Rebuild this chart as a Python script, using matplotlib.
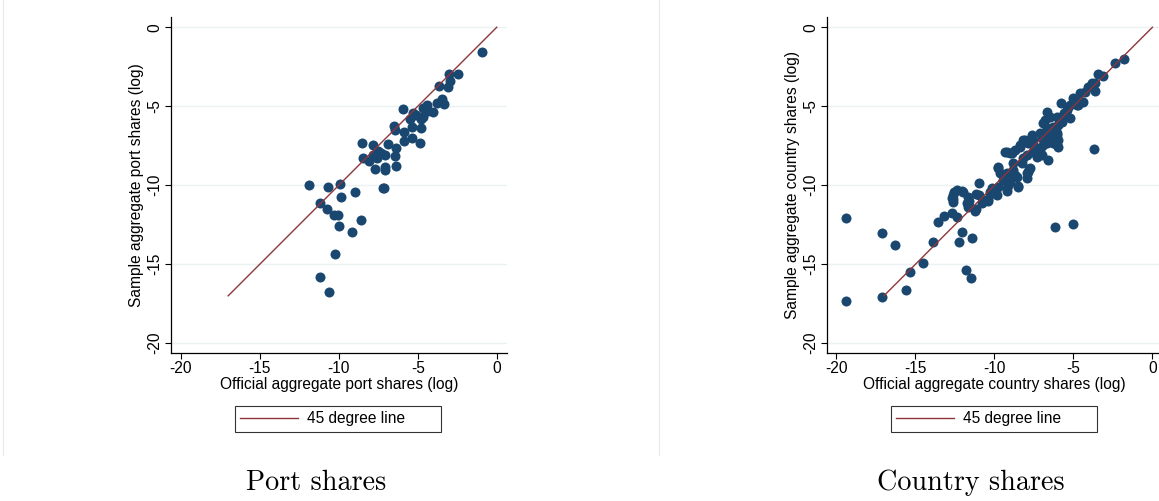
import matplotlib
matplotlib.use("Agg")
import matplotlib.pyplot as plt
from matplotlib.lines import Line2D

# ---------------- data ----------------
port_x = [-0.95, -2.47, -3.04, -2.97, -3.63, -3.10, -3.46, -3.78, -3.35, -4.43,
          -4.64, -4.33, -4.05, -5.91, -5.28, -5.49, -4.64, -4.79, -6.48, -5.38,
          -4.81, -6.44, -5.87, -5.34, -5.85, -4.85, -8.54, -7.81, -6.90, -6.39,
          -7.49, -7.81, -8.44, -7.59, -7.07, -6.44, -8.06, -7.70, -7.07, -7.07,
          -6.39, -11.90, -10.68, -9.90, -8.95, -9.87, -7.22, -7.13, -11.16, -10.72,
          -10.30, -10.06, -8.59, -9.96, -9.18, -10.25, -11.18, -10.59, -7.35, -5.12]
port_y = [-1.54, -2.96, -2.96, -3.40, -3.72, -3.78, -4.56, -4.81, -4.87, -4.92,
          -5.09, -5.30, -5.34, -5.19, -5.44, -5.82, -5.66, -5.80, -6.25, -6.29,
          -6.35, -6.50, -6.65, -6.99, -7.18, -7.34, -7.34, -7.43, -7.41, -7.64,
          -7.81, -8.08, -8.27, -8.27, -8.10, -8.13, -8.46, -8.99, -8.85, -9.05,
          -8.76, -10.00, -10.09, -9.90, -10.44, -10.74, -10.15, -10.19, -11.10, -11.50,
          -11.88, -11.88, -12.20, -12.56, -12.96, -14.35, -15.80, -16.77, -7.95, -5.55]

country_x = [-19.37, -19.41, -17.09, -17.13, -16.31, -15.63, -15.36, -14.51, -13.90, -13.56,
             -13.18, -12.71, -12.40, -12.08, -12.25, -11.45, -11.83, -11.51, -6.19, -5.03,
             -3.67, -12.57, -12.67, -12.65, -12.04, -11.70, -11.76, -11.66, -11.24, -11.17,
             -10.96, -10.81, -10.39, -10.29, -9.86, -10.18, -9.76, -9.23, -8.49, -9.02,
             -7.96, -7.86, -9.65, -8.70, -10.71, -9.97, -9.44, -9.23, -9.13, -9.23,
             -8.81, -8.59, -7.79, -8.28, -9.76, -9.23, -8.91, -8.38, -8.07, -7.54,
             -7.33, -7.64, -7.12, -6.69, -6.59, -6.27, -6.91, -6.17, -9.02, -9.34,
             -9.76, -9.02, -8.49, -7.96, -7.75, -7.12, -7.01, -7.96, -8.70, -8.38,
             -7.43, -6.91, -7.33, -7.54, -7.86, -8.17, -7.01, -6.48, -5.96, -6.27,
             -5.96, -6.06, -6.69, -5.96, -6.27, -6.80, -6.48, -6.69, -5.74, -5.22,
             -5.53, -5.43, -5.79, -5.22, -4.79, -4.90, -4.37, -4.58, -4.26, -4.06,
             -3.63, -3.84, -3.63, -3.42, -3.11, -2.36, -1.77, -5.33, -5.01, -6.06,
             -6.06, -6.06, -12.60, -12.60, -12.40, -12.00, -11.60, -11.60, -11.20, -11.00,
             -10.70, -10.40, -10.00, -8.80, -8.20, -7.60, -6.80, -6.40, -5.60, -4.70]
country_y = [-12.09, -17.32, -13.04, -17.07, -13.76, -16.65, -15.51, -14.90, -13.61, -12.34,
             -11.96, -11.73, -11.99, -12.94, -13.61, -13.32, -15.38, -15.87, -12.62, -12.47,
             -7.72, -10.41, -10.82, -11.08, -10.36, -10.76, -11.14, -11.35, -11.61, -10.55,
             -9.87, -11.10, -10.97, -10.41, -10.61, -10.19, -10.09, -10.19, -10.09, -9.77,
             -9.56, -9.14, -9.24, -9.35, -10.93, -10.41, -9.66, -9.24, -9.98, -10.34,
             -9.03, -9.45, -8.99, -8.61, -8.89, -7.87, -7.97, -7.45, -7.13, -7.87,
             -8.19, -6.82, -6.71, -7.34, -8.40, -6.39, -6.08, -7.34, -7.97, -7.87,
             -8.82, -9.45, -10.04, -9.24, -8.92, -7.77, -8.08, -8.08, -7.76, -7.56,
             -7.56, -7.45, -7.87, -7.13, -7.34, -7.13, -7.02, -6.92, -7.13, -7.34,
             -7.56, -6.71, -6.39, -6.18, -6.29, -5.87, -5.66, -5.34, -5.97, -5.76,
             -5.55, -5.23, -4.77, -4.92, -4.92, -4.60, -4.71, -4.18, -4.07, -3.76,
             -4.01, -3.50, -3.54, -2.97, -3.08, -2.24, -2.03, -5.06, -4.49, -5.66,
             -6.82, -7.45, -10.90, -10.60, -10.30, -10.40, -11.00, -11.30, -11.50, -10.60,
             -11.00, -10.90, -10.50, -8.60, -8.30, -7.40, -6.70, -6.60, -5.40, -4.90]

line_ends = [-17, 0]
ticks = [-20, -15, -10, -5, 0]
panels = [
    ("Official aggregate port shares (log)", "Sample aggregate port shares (log)", "Port shares"),
    ("Official aggregate country shares (log)", "Sample aggregate country shares (log)", "Country shares"),
]

# ---------------- style ----------------
NAVY = "#1a476f"
MAROON = "#90353b"
GRID = "#eaf2f3"
FS = 11.2
plt.rcParams["font.family"] = ["Liberation Sans", "DejaVu Sans"]
plt.rcParams["font.size"] = FS

W, H = 1159, 501
fig = plt.figure(figsize=(W / 100, H / 100), dpi=100)

ax_w = 335.7 / W
ax_h = 335.4 / H
ax_bottom = 1 - 352.7 / H
lefts = [171 / W, 826.7 / W]
title_x = [316 / W, 971 / W]

data = [(port_x, port_y), (country_x, country_y)]

for i, (xl, yl, title) in enumerate(panels):
    ax = fig.add_axes([lefts[i], ax_bottom, ax_w, ax_h])
    xs, ys = data[i]
    ax.set_xlim(-20.62, 0.63)
    ax.set_ylim(-20.6, 0.63)
    ax.set_xticks(ticks)
    ax.set_yticks(ticks)
    ax.set_xticklabels([str(t) for t in ticks])
    ax.set_yticklabels([str(t) for t in ticks], rotation=90, va="center")
    for s in ["top", "right"]:
        ax.spines[s].set_visible(False)
    for s in ["left", "bottom"]:
        ax.spines[s].set_linewidth(0.9)
    ax.tick_params(direction="out", length=4, width=0.8, pad=2, labelsize=FS)
    ax.yaxis.grid(True, color=GRID, linewidth=1.0)
    ax.set_axisbelow(True)
    ax.scatter(xs, ys, s=52, color=NAVY, linewidths=0, zorder=3)
    h, = ax.plot(line_ends, line_ends, color=MAROON, linewidth=1.0, zorder=4,
                 label="45 degree line")
    ax.set_xlabel(xl, labelpad=0.5)
    ax.set_ylabel(yl, labelpad=2.5)
    leg_left = (235 - 171) / 335.7
    leg_w = 206 / 335.7
    leg_top = (352.7 - 406) / 335.4
    leg = ax.legend(handles=[h], loc="upper left",
                    bbox_to_anchor=(leg_left, leg_top - 0.3, leg_w, 0.3),
                    mode="expand", frameon=True, fancybox=False, edgecolor="black",
                    fontsize=FS, handlelength=3.7, handletextpad=0.6,
                    borderpad=0.35, borderaxespad=0)
    leg.get_frame().set_linewidth(0.8)
    fig.text(title_x[i], 1 - 483 / H, title, ha="center", va="center",
             fontsize=20.3, family="cmr10")

# faint graph-region borders
for xp in [3, 659]:
    fig.add_artist(Line2D([xp / W, xp / W], [1 - 455 / H, 1], color="#e4ecee",
                          linewidth=0.8, transform=fig.transFigure))

fig.savefig("out.png", dpi=100)
